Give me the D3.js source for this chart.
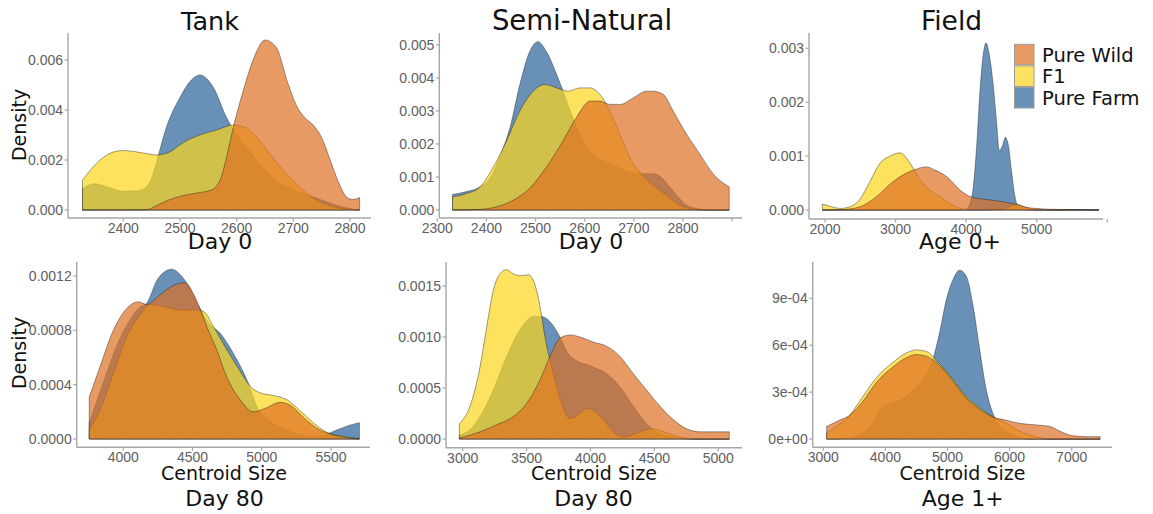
<!DOCTYPE html>
<html>
<head>
<meta charset="utf-8">
<script src="https://cdn.jsdelivr.net/npm/d3@7"></script>
<style>
  html, body { margin: 0; padding: 0; background: #fff; }
  svg { display: block; }
</style>
</head>
<body>
<svg id="chart" width="1153" height="514"></svg>
<script>
// ---------------- DATA ----------------
const groups = ["Pure Farm", "F1", "Pure Wild"];          // drawing order
const legendGroups = ["Pure Wild", "F1", "Pure Farm"];    // legend order
const groupColors = ["#2A6299", "#FCD51C", "#DE6F22"];

const panelTitles = ["Tank", "Semi-Natural", "Field"];
const rowLabelsTop = ["Day 0", "Day 0", "Age 0+"];
const rowLabelsBottom = ["Day 80", "Day 80", "Age 1+"];
const xAxisTitle = "Centroid Size";
const yAxisTitle = "Density";

// Tank, Day 0
const tankDay0Farm = [[2328,0.00087],[2350,0.00105],[2375,0.0009],[2400,0.00075],[2425,0.00077],[2440,0.0009],[2452,0.0014],[2462,0.0022],[2476,0.0033],[2500,0.0045],[2520,0.0052],[2535,0.0054],[2559,0.0049],[2582,0.0037],[2600,0.003],[2625,0.0023],[2650,0.0016],[2675,0.0011],[2700,0.0008],[2725,0.0006],[2750,0.0004],[2775,0.0002],[2800,0.00005],[2817,0]];
const tankDay0F1 = [[2328,0.0012],[2359,0.002],[2380,0.0023],[2400,0.00238],[2430,0.0023],[2460,0.0022],[2480,0.0023],[2506,0.0027],[2535,0.003],[2565,0.0032],[2594,0.0034],[2615,0.0033],[2640,0.0028],[2660,0.0022],[2682,0.0016],[2712,0.0009],[2741,0.0004],[2771,0.00013],[2800,0.00003],[2817,0]];
const tankDay0Wild = [[2328,0],[2400,0],[2441,0.00001],[2460,0.0002],[2480,0.0004],[2500,0.00055],[2530,0.00068],[2555,0.0008],[2571,0.0012],[2582,0.0021],[2594,0.0033],[2612,0.0048],[2629,0.006],[2650,0.0068],[2670,0.0065],[2690,0.0051],[2705,0.0042],[2720,0.0037],[2735,0.0034],[2750,0.0029],[2765,0.002],[2780,0.0011],[2795,0.0005],[2805,0.00042],[2817,0.0005]];
const tankDay0XTicks = [2400,2500,2600,2700,2800];
const tankDay0YTicks = [0,0.002,0.004,0.006];
const tankDay0YLabels = ["0.000","0.002","0.004","0.006"];

// Semi-Natural, Day 0
const semiDay0Farm = [[2331,0.00047],[2360,0.00056],[2387,0.0007],[2407,0.00096],[2427,0.0016],[2448,0.0025],[2468,0.0038],[2488,0.0048],[2505,0.0051],[2522,0.0048],[2543,0.0041],[2556,0.0036],[2573,0.0029],[2590,0.0023],[2605,0.0019],[2624,0.0016],[2655,0.0014],[2680,0.0012],[2716,0.0011],[2740,0.0011],[2755,0.001],[2773,0.0007],[2790,0.0004],[2807,0.00015],[2834,0.00003],[2860,0],[2894,0]];
const semiDay0F1 = [[2331,0.0004],[2360,0.0005],[2387,0.0007],[2414,0.0013],[2441,0.0021],[2468,0.003],[2495,0.0036],[2519,0.0038],[2543,0.0037],[2566,0.0036],[2590,0.0037],[2611,0.0037],[2631,0.0035],[2651,0.003],[2677,0.0021],[2695,0.0015],[2715,0.0011],[2735,0.0008],[2753,0.0006],[2770,0.0004],[2788,0.0002],[2810,0.00005],[2840,0],[2894,0]];
const semiDay0Wild = [[2331,0],[2387,0.00002],[2421,0.0001],[2455,0.0003],[2488,0.00066],[2522,0.0013],[2556,0.0021],[2583,0.0028],[2611,0.0033],[2631,0.0033],[2651,0.0032],[2672,0.0032],[2699,0.0034],[2726,0.0036],[2739,0.0036],[2760,0.0035],[2780,0.003],[2807,0.0023],[2834,0.0017],[2861,0.0011],[2894,0.0007]];
const semiDay0XTicks = [2300,2400,2500,2600,2700,2800,2900];
const semiDay0XLabels = ["2300","2400","2500","2600","2700","2800",""];
const semiDay0YTicks = [0,0.001,0.002,0.003,0.004,0.005];
const semiDay0YLabels = ["0.000","0.001","0.002","0.003","0.004","0.005"];

// Field, Age 0+
const fieldAge0Farm = [[1962,0],[3950,0],[4008,0.00002],[4050,0.0001],[4102,0.00043],[4150,0.0012],[4196,0.0022],[4244,0.0029],[4282,0.0031],[4338,0.0028],[4385,0.0023],[4433,0.0016],[4470,0.0011],[4518,0.0012],[4556,0.00135],[4598,0.0012],[4645,0.0007],[4692,0.00025],[4740,0.00005],[4858,0],[5883,0]];
const fieldAge0F1 = [[1962,0.00011],[2070,0.00007],[2212,0.00003],[2354,0.00006],[2496,0.0002],[2638,0.00053],[2780,0.00087],[2921,0.001],[3063,0.00106],[3205,0.00087],[3346,0.00056],[3488,0.00037],[3630,0.00025],[3771,0.00012],[3913,0.00003],[4102,0],[4500,0.00001],[4620,0.00006],[4716,0.00011],[4800,0.00007],[4900,0.00002],[5000,0],[5883,0]];
const fieldAge0Wild = [[1962,0],[2260,0.00001],[2496,0.00006],[2732,0.00025],[2968,0.00053],[3252,0.00074],[3441,0.0008],[3560,0.00074],[3724,0.00062],[3913,0.00037],[4055,0.00025],[4197,0.00021],[4385,0.00018],[4574,0.00014],[4716,0.0001],[4858,0.00005],[5094,0.00002],[5330,0.00001],[5566,0.00001],[5883,0]];
const fieldAge0XTicks = [2000,3000,4000,5000,6000];
const fieldAge0XLabels = ["2000","3000","4000","5000",""];
const fieldAge0YTicks = [0,0.001,0.002,0.003];
const fieldAge0YLabels = ["0.000","0.001","0.002","0.003"];

// Tank, Day 80
const tankDay80Farm = [[3754,0.00012],[3850,0.0004],[3950,0.00068],[4050,0.00088],[4120,0.00097],[4169,0.001],[4250,0.00118],[4349,0.00125],[4420,0.0012],[4457,0.00115],[4554,0.00096],[4620,0.00085],[4698,0.00078],[4795,0.00063],[4915,0.00038],[4963,0.00024],[5050,0.00014],[5150,0.00008],[5250,0.00004],[5350,0.00002],[5450,0.00003],[5550,0.00007],[5630,0.0001],[5705,0.00012]];
const tankDay80F1 = [[3754,0.00007],[3831,0.00021],[3928,0.00048],[4024,0.00075],[4120,0.00091],[4193,0.00099],[4313,0.00097],[4409,0.00095],[4506,0.00095],[4578,0.00094],[4650,0.00083],[4746,0.00066],[4843,0.0005],[4915,0.00039],[4987,0.00034],[5084,0.00032],[5180,0.00029],[5276,0.00021],[5372,0.00012],[5469,0.00005],[5589,0.00002],[5705,0]];
const tankDay80Wild = [[3754,0.00031],[3831,0.00053],[3928,0.0008],[4024,0.00096],[4108,0.00101],[4169,0.00099],[4241,0.00104],[4313,0.0011],[4385,0.00114],[4446,0.00115],[4506,0.00107],[4554,0.00096],[4602,0.00083],[4674,0.00066],[4746,0.00046],[4843,0.00029],[4939,0.0002],[5035,0.00023],[5132,0.00027],[5204,0.00025],[5300,0.00016],[5397,0.00008],[5517,0.00003],[5705,0]];
const tankDay80XTicks = [4000,4500,5000,5500];
const tankDay80YTicks = [0,0.0004,0.0008,0.0012];
const tankDay80YLabels = ["0.0000","0.0004","0.0008","0.0012"];

// Semi-Natural, Day 80
const semiDay80Farm = [[2974,0.00004],[3057,0.00009],[3136,0.00022],[3240,0.00048],[3344,0.00081],[3449,0.00107],[3553,0.0012],[3618,0.0012],[3683,0.00115],[3761,0.001],[3814,0.00086],[3900,0.00076],[3970,0.00073],[4050,0.00069],[4126,0.00064],[4231,0.00051],[4335,0.00032],[4439,0.00015],[4517,0.00007],[4648,0.00002],[4778,0],[5086,0]];
const semiDay80F1 = [[2974,0.00015],[3057,0.00032],[3136,0.00071],[3188,0.0011],[3240,0.00146],[3292,0.00162],[3344,0.00166],[3396,0.00162],[3449,0.0016],[3514,0.00161],[3566,0.00151],[3605,0.0013],[3644,0.001],[3683,0.00077],[3735,0.00052],[3787,0.0003],[3840,0.0002],[3918,0.00025],[3970,0.0003],[4022,0.00028],[4100,0.00019],[4179,0.00007],[4257,0.00002],[4330,0.00004],[4387,0.00007],[4491,0.0001],[4596,0.00006],[4700,0.00002],[4830,0],[5086,0]];
const semiDay80Wild = [[2974,0.00001],[3136,0.00007],[3266,0.00014],[3396,0.00022],[3501,0.00035],[3605,0.00058],[3683,0.00081],[3761,0.00099],[3840,0.00102],[3918,0.001],[4022,0.00095],[4126,0.00091],[4231,0.00081],[4335,0.00064],[4439,0.00048],[4544,0.00032],[4648,0.00019],[4752,0.0001],[4857,0.00007],[4961,0.00007],[5086,0.00007]];
const semiDay80XTicks = [3000,3500,4000,4500,5000];
const semiDay80YTicks = [0,0.0005,0.001,0.0015];
const semiDay80YLabels = ["0.0000","0.0005","0.0010","0.0015"];

// Field, Age 1+
const fieldAge1Farm = [[3054,0],[3366,0.000004],[3581,0.00003],[3797,0.0001],[3958,0.00021],[4120,0.00023],[4281,0.00026],[4443,0.00031],[4604,0.00038],[4766,0.00051],[4873,0.00068],[4981,0.00089],[5089,0.00102],[5196,0.00108],[5304,0.00104],[5412,0.00085],[5519,0.00057],[5627,0.00031],[5735,0.00016],[5843,0.00008],[6058,0.00003],[6273,0],[7458,0]];
const fieldAge1F1 = [[3054,0.00004],[3205,0.00008],[3420,0.00015],[3635,0.00027],[3851,0.00039],[4120,0.00049],[4335,0.00055],[4497,0.00057],[4658,0.00056],[4873,0.00048],[5089,0.00038],[5304,0.00027],[5519,0.0002],[5735,0.00014],[5951,0.0001],[6166,0.00005],[6381,0.00002],[6650,0],[7458,0]];
const fieldAge1Wild = [[3054,0.00008],[3258,0.00012],[3420,0.00015],[3635,0.00024],[3851,0.00036],[4120,0.00046],[4335,0.00052],[4497,0.00054],[4658,0.00053],[4873,0.00047],[5089,0.00037],[5304,0.00026],[5519,0.00019],[5735,0.00014],[5951,0.00012],[6166,0.0001],[6435,0.00009],[6650,0.00008],[6812,0.00005],[7027,0.00002],[7242,0.000015],[7458,0.000015]];
const fieldAge1XTicks = [3000,4000,5000,6000,7000];
const fieldAge1YTicks = [0,0.0003,0.0006,0.0009];
const fieldAge1YLabels = ["0e+00","3e-04","6e-04","9e-04"];

// ---------------- LAYOUT ----------------
const svg = d3.select("#chart");
const TITLE_FONT = "'DejaVu Sans', Verdana, sans-serif";
const TICK_FONT = "'Liberation Sans', Arial, sans-serif";

const panels = [
  { series: [tankDay0Farm, tankDay0F1, tankDay0Wild], xTicks: tankDay0XTicks, xLabels: null, yTicks: tankDay0YTicks, yLabels: tankDay0YLabels,
    xCal: [[2400, 2800], [123.3, 350]], yCal: [[0, 0.006], [210, 60]], axisX: 68, axisY: 218, top: 33, right: 371 },
  { series: [semiDay0Farm, semiDay0F1, semiDay0Wild], xTicks: semiDay0XTicks, xLabels: semiDay0XLabels, yTicks: semiDay0YTicks, yLabels: semiDay0YLabels,
    xCal: [[2300, 2800], [437.3, 683]], yCal: [[0, 0.005], [210, 45]], axisX: 439.3, axisY: 218, top: 33, right: 742 },
  { series: [fieldAge0Farm, fieldAge0F1, fieldAge0Wild], xTicks: fieldAge0XTicks, xLabels: fieldAge0XLabels, yTicks: fieldAge0YTicks, yLabels: fieldAge0YLabels,
    xCal: [[2000, 5000], [825, 1036.7]], yCal: [[0, 0.003], [210, 48.3]], axisX: 809, axisY: 219, top: 33, right: 1103 },
  { series: [tankDay80Farm, tankDay80F1, tankDay80Wild], xTicks: tankDay80XTicks, xLabels: null, yTicks: tankDay80YTicks, yLabels: tankDay80YLabels,
    xCal: [[4000, 5500], [123.3, 331]], yCal: [[0, 0.0012], [439, 276]], axisX: 76.7, axisY: 447.3, top: 262, right: 370 },
  { series: [semiDay80Farm, semiDay80F1, semiDay80Wild], xTicks: semiDay80XTicks, xLabels: null, yTicks: semiDay80YTicks, yLabels: semiDay80YLabels,
    xCal: [[3000, 5000], [462.7, 718.3]], yCal: [[0, 0.0015], [439, 286]], axisX: 446, axisY: 447.7, top: 262, right: 742 },
  { series: [fieldAge1Farm, fieldAge1F1, fieldAge1Wild], xTicks: fieldAge1XTicks, xLabels: null, yTicks: fieldAge1YTicks, yLabels: fieldAge1YLabels,
    xCal: [[3000, 7000], [823.3, 1071.7]], yCal: [[0, 0.0009], [439, 298.3]], axisX: 812.7, axisY: 447.3, top: 262, right: 1112 }
];

const axisColor = "#a6a6a6";
const tickTextColor = "#606060";

panels.forEach(p => {
  const x = d3.scaleLinear().domain(p.xCal[0]).range(p.xCal[1]);
  const y = d3.scaleLinear().domain(p.yCal[0]).range(p.yCal[1]);
  const g = svg.append("g");

  const area = d3.area()
    .x(d => x(d[0]))
    .y0(y(0))
    .y1(d => y(d[1]))
    .curve(d3.curveMonotoneX);

  p.series.forEach((s, i) => {
    g.append("path")
      .datum(s)
      .attr("d", area)
      .attr("fill", groupColors[i])
      .attr("fill-opacity", 0.7)
      .attr("stroke", "#1a1a1a")
      .attr("stroke-opacity", 0.7)
      .attr("stroke-width", 0.6)
      .attr("stroke-linejoin", "round");
  });

  // axis lines
  g.append("line").attr("x1", p.axisX).attr("x2", p.axisX).attr("y1", p.top).attr("y2", p.axisY)
    .attr("stroke", axisColor).attr("stroke-width", 1.4);
  g.append("line").attr("x1", p.axisX).attr("x2", p.right).attr("y1", p.axisY).attr("y2", p.axisY)
    .attr("stroke", axisColor).attr("stroke-width", 1.4);

  // y ticks
  p.yTicks.forEach((t, i) => {
    g.append("line").attr("x1", p.axisX - 3.5).attr("x2", p.axisX).attr("y1", y(t)).attr("y2", y(t))
      .attr("stroke", axisColor).attr("stroke-width", 1.2);
    g.append("text").attr("x", p.axisX - 5).attr("y", y(t)).attr("dy", "0.36em")
      .attr("text-anchor", "end").attr("font-family", TICK_FONT).attr("font-size", 14)
      .attr("fill", tickTextColor).text(p.yLabels[i]);
  });
  // x ticks
  p.xTicks.forEach((t, i) => {
    g.append("line").attr("x1", x(t)).attr("x2", x(t)).attr("y1", p.axisY).attr("y2", p.axisY + 3.5)
      .attr("stroke", axisColor).attr("stroke-width", 1.2);
    const lab = p.xLabels ? p.xLabels[i] : String(t);
    g.append("text").attr("x", x(t)).attr("y", p.axisY + 15)
      .attr("text-anchor", "middle").attr("font-family", TICK_FONT).attr("font-size", 14)
      .attr("fill", tickTextColor).text(lab);
  });
});

// ---------------- TEXTS ----------------
const titleSpecs = [[210, 25.5], [582, 27.5], [951.5, 26.5]];
panelTitles.forEach((t, i) => {
  svg.append("text").attr("x", titleSpecs[i][0]).attr("y", 30).attr("text-anchor", "middle")
    .attr("font-family", TITLE_FONT).attr("font-size", titleSpecs[i][1]).attr("fill", "#111").text(t);
});

const topLabX = [220, 591, 960];
rowLabelsTop.forEach((t, i) => {
  svg.append("text").attr("x", topLabX[i]).attr("y", 248.5).attr("text-anchor", "middle")
    .attr("font-family", TITLE_FONT).attr("font-size", 22).attr("fill", "#111").text(t);
});
const botLabX = [224.5, 593.5, 962.8];
rowLabelsBottom.forEach((t, i) => {
  svg.append("text").attr("x", botLabX[i]).attr("y", 505.5).attr("text-anchor", "middle")
    .attr("font-family", TITLE_FONT).attr("font-size", 22).attr("fill", "#111").text(t);
});
const centroidX = [224, 594, 962.5];
centroidX.forEach(cx => {
  svg.append("text").attr("x", cx).attr("y", 480).attr("text-anchor", "middle")
    .attr("font-family", TITLE_FONT).attr("font-size", 19).attr("fill", "#111").text(xAxisTitle);
});
[125, 353].forEach(cy => {
  svg.append("text").attr("transform", `translate(26,${cy}) rotate(-90)`).attr("text-anchor", "middle")
    .attr("font-family", TITLE_FONT).attr("font-size", 19).attr("fill", "#111").text(yAxisTitle);
});

// ---------------- LEGEND ----------------
const legend = svg.append("g");
const legendY = d3.scaleBand().domain(legendGroups).range([44.3, 108]).paddingInner(0.05);
legendGroups.forEach(name => {
  const ci = groups.indexOf(name);
  legend.append("rect").attr("x", 1014.5).attr("y", legendY(name)).attr("width", 19.5).attr("height", legendY.bandwidth())
    .attr("fill", groupColors[ci]).attr("fill-opacity", 0.7)
    .attr("stroke", "#9a9a9a").attr("stroke-width", 1);
  legend.append("text").attr("x", 1042).attr("y", legendY(name) + legendY.bandwidth() / 2).attr("dy", "0.36em")
    .attr("font-family", TITLE_FONT).attr("font-size", 19.5).attr("fill", "#111").text(name);
});
</script>
</body>
</html>
